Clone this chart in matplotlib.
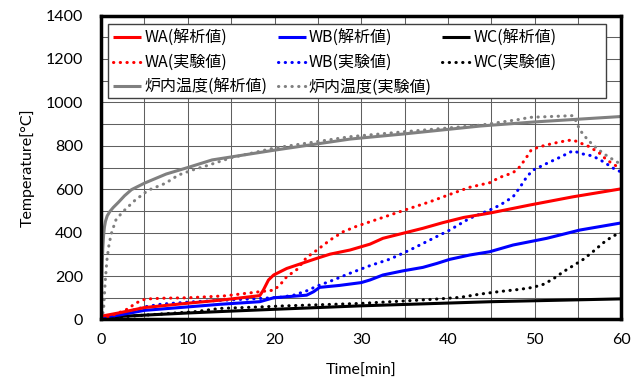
import numpy as np
import matplotlib
matplotlib.use("Agg")
import matplotlib.pyplot as plt
from matplotlib.ticker import MultipleLocator
from matplotlib.patches import Rectangle

plt.rcParams['font.family'] = ['Noto Sans CJK JP', 'DejaVu Sans']

# ----------------- DATA -----------------
# WA analysis (red solid)
wa_calc_t = [0, 2, 5, 10, 14, 18.3, 18.7, 19.3, 19.9, 21.4, 23.7, 24.9, 26.4, 28.7,
             31, 32.5, 34.8, 37.1, 39.4, 41.8, 44.8, 49.4, 54.4, 60]
wa_calc_v = [15, 30, 55, 75, 90, 110, 135, 182, 205, 235, 266, 282, 301, 320,
             347, 374, 397, 420, 446, 470, 490, 527, 565, 602]

# WA experiment (red dotted)
wa_exp_t = [0, 1, 2, 3.2, 3.9, 5.1, 7, 10, 14.3, 18.3, 19.9, 20.6, 21.4, 22.6, 23.7,
            24.9, 26.4, 27.9, 29.5, 31, 33.3, 35.6, 37.9, 40.2, 42.5, 44.8, 46, 47.5,
            48.3, 49.1, 49.6, 50.6, 52.1, 53.7, 54.4, 55.2, 56.3, 57.5, 58.3, 59.4, 60]
wa_exp_v = [5, 15, 30, 51, 74, 94, 98, 100, 109, 128, 135, 158, 197, 231, 286,
            320, 366, 404, 430, 450, 481, 512, 542, 576, 609, 630, 655, 676,
            704, 750, 781, 796, 811, 824, 827, 814, 796, 765, 735, 707, 700]

# WB analysis (blue solid)
wb_calc_t = [0, 2, 5, 10, 13.7, 18.3, 19.9, 23.7, 24.5, 25.2, 27.5, 30, 31, 32.5,
             34.8, 37.1, 38.7, 40.2, 42.5, 44.8, 47.5, 51.4, 55.2, 60]
wb_calc_v = [10, 20, 42, 58, 70, 82, 100, 112, 128, 148, 157, 170, 182, 205,
             224, 240, 258, 277, 297, 312, 343, 374, 412, 445]

# WB experiment (blue dotted)
wb_exp_t = [0, 1, 3, 5.1, 7, 10.8, 14.3, 18.3, 20.6, 22.2, 23.7, 24.9, 26.8, 28.5,
            31, 33.3, 35.6, 37.9, 40.2, 42.5, 44.8, 46, 47.5, 48.3, 49.1, 49.8,
            51.4, 52.9, 54.4, 55.6, 56.7, 57.9, 59.4, 60]
wb_exp_v = [5, 10, 35, 59, 71, 82, 89, 97, 102, 112, 132, 154, 182, 210,
            248, 278, 320, 366, 412, 466, 504, 527, 565, 609, 658, 688,
            719, 747, 777, 762, 753, 727, 688, 680]

# WC analysis (black solid)
wc_calc_t = [0, 5, 10, 14, 20, 30, 45, 60]
wc_calc_v = [10, 20, 30, 37, 47, 63, 82, 95]

# WC experiment (black dotted)
wc_exp_t = [0, 5, 10.8, 13.7, 19.1, 20.6, 29.9, 38.3, 41.4, 43.7, 46, 48.3, 49.8,
            51, 52.1, 53.3, 54.4, 55.6, 56.7, 57.9, 59, 60]
wc_exp_v = [5, 20, 36, 51, 59, 62, 74, 93, 102, 117, 129, 139, 148,
            162, 186, 220, 247, 277, 312, 353, 384, 400]

# furnace analysis (gray solid)
fur_calc_t = [0, 0.05, 0.12, 0.2, 0.28, 0.38, 0.5, 0.7, 1.0, 1.4, 2, 2.7, 3.5, 5,
              7.5, 10, 12.8, 20, 28.7, 35, 43.7, 50, 60]
fur_calc_v = [20, 150, 260, 330, 385, 425, 452, 477, 497, 516, 540, 570, 598, 628,
              670, 700, 735, 780, 831, 855, 891, 910, 935]

# furnace experiment (gray dotted)
fur_exp_t = [0, 0.15, 0.28, 0.47, 0.67, 0.93, 1.24, 1.7, 2.4, 3.0, 3.93, 5.46, 7.4,
             8.9, 10.5, 12.4, 15, 20, 28.7, 35, 43.7, 48.3, 49.4, 54.4, 54.8, 55.2,
             55.96, 56.7, 57.9, 59.4, 60]
fur_exp_v = [0, 20, 43, 174, 274, 351, 404, 458, 492, 515, 550, 596, 627,
             665, 688, 711, 745, 790, 842, 865, 895, 922, 931, 939, 911, 873,
             835, 804, 765, 727, 715]

# ----------------- PLOT -----------------
fig = plt.figure(figsize=(6.4, 3.79), dpi=100)
ax = fig.add_axes([0.158, 0.157, 0.813, 0.802])

LW = 2.2
DOT = (0, (0.1, 2.1))
RED, BLUE, BLACK, GRAY = "#ff0000", "#0000ff", "#000000", "#808080"

def solid(t, v, c, lab):
    return ax.plot(t, v, color=c, lw=LW, label=lab, solid_capstyle="butt")[0]

def dotted(t, v, c, lab):
    return ax.plot(t, v, color=c, lw=LW, ls=DOT, dash_capstyle="round", label=lab)[0]

h_fur_c = solid(fur_calc_t, fur_calc_v, GRAY, "炉内温度(解析値)")
h_fur_e = dotted(fur_exp_t, fur_exp_v, GRAY, "炉内温度(実験値)")
h_wc_c = solid(wc_calc_t, wc_calc_v, BLACK, "WC(解析値)")
h_wc_e = dotted(wc_exp_t, wc_exp_v, BLACK, "WC(実験値)")
h_wb_c = solid(wb_calc_t, wb_calc_v, BLUE, "WB(解析値)")
h_wb_e = dotted(wb_exp_t, wb_exp_v, BLUE, "WB(実験値)")
h_wa_c = solid(wa_calc_t, wa_calc_v, RED, "WA(解析値)")
h_wa_e = dotted(wa_exp_t, wa_exp_v, RED, "WA(実験値)")

ax.set_xlim(0, 60)
ax.set_ylim(0, 1400)
ax.xaxis.set_major_locator(MultipleLocator(10))
ax.xaxis.set_minor_locator(MultipleLocator(5))
ax.yaxis.set_major_locator(MultipleLocator(200))
ax.yaxis.set_minor_locator(MultipleLocator(100))
ax.grid(which="both", color="#606060", lw=0.75)
ax.set_axisbelow(True)
ax.tick_params(which="both", length=0)
ax.tick_params(axis="y", pad=13)
ax.tick_params(axis="x", pad=10)
for lab in ax.get_xticklabels() + ax.get_yticklabels():
    lab.set_fontfamily(["Lato", "DejaVu Sans"])
    lab.set_fontsize(11.5)
for s in ax.spines.values():
    s.set_linewidth(2.5)
    s.set_color("black")

ax.set_xlabel("Time[min]", fontsize=11.5, family=["Lato", "DejaVu Sans"], labelpad=12)
ax.set_ylabel("Temperature[°C]", fontsize=11.5, family=["Lato", "DejaVu Sans"], labelpad=8)

# legend box (fixed size, like the spreadsheet one) + legend entries on top
ax.add_patch(Rectangle((0.0123, 0.728), 0.958, 0.244, transform=ax.transAxes,
                       facecolor="white", edgecolor="#404040", lw=1.0, zorder=4.5))
handles = [h_wa_c, h_wa_e, h_fur_c, h_wb_c, h_wb_e, h_fur_e, h_wc_c, h_wc_e]
leg = ax.legend(handles=handles, ncol=3, loc="upper left",
                bbox_to_anchor=(0.0123, 0.972), frameon=False,
                fontsize=11.5, handlelength=1.75, handletextpad=0.2,
                columnspacing=0.65, borderpad=0.35, labelspacing=0.48,
                borderaxespad=0)
leg.set_zorder(5)

plt.savefig("out.png", dpi=100)
plt.close()
